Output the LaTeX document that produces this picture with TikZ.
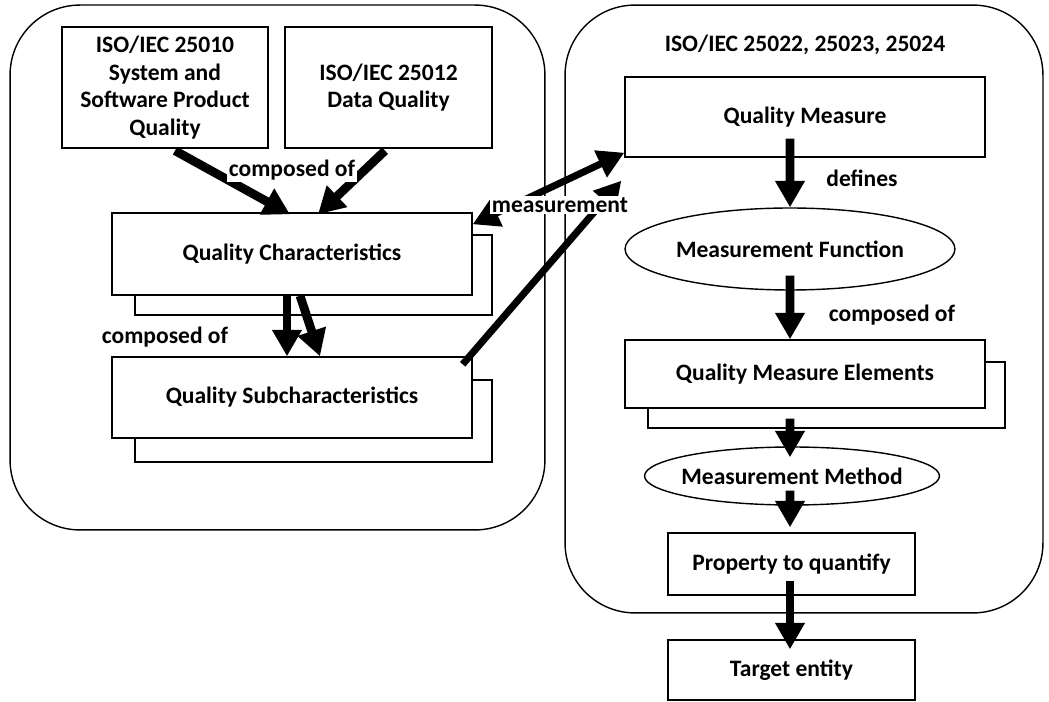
\documentclass[tikz,border=0pt]{standalone}
\usepackage{fontspec}
\setmainfont{Carlito}
\usetikzlibrary{arrows.meta,shapes.geometric}

\begin{document}
\begin{tikzpicture}[x=0.02cm, y=-0.02cm, every node/.style={font=\bfseries\fontsize{13.4}{15.7}\selectfont}, >={Triangle[length=15pt,width=16pt]}, frame/.style={draw, line width=0.8pt, rounded corners=1.4cm, inner sep=0pt}, b/.style={draw, line width=0.8pt, fill=white, inner sep=0pt, align=center}, e/.style={b, ellipse}, lbl/.style={fill=white, inner sep=1pt}, big/.style={line width=5pt, ->}]
	\useasboundingbox (0,0) rectangle (1049,702);
	% the two groups
	\node[frame, minimum width=10.7cm, minimum height=10.5cm] (left) at (277.5,267.5) {};
	\node[frame, minimum width=9.56cm, minimum height=12.16cm] (right) at (804,309) {};
	% left group
	\node[b, minimum width=4.12cm, minimum height=2.42cm] (iso10) at (165,87.5) {ISO/IEC 25010\\System and\\Software Product\\Quality};
	\node[b, minimum width=4.14cm, minimum height=2.42cm] (iso12) at (388.5,87.5) {ISO/IEC 25012\\Data Quality};
	\node[b, minimum width=7.14cm, minimum height=1.6cm] (qcs) at (313.5,275) {};
	\node[b, minimum width=7.2cm, minimum height=1.64cm] (qc) at (292,254) {Quality Characteristics};
	\node[b, minimum width=7.14cm, minimum height=1.64cm] (qss) at (313.5,421) {};
	\node[b, minimum width=7.2cm, minimum height=1.62cm] (qs) at (292,397.5) {Quality Subcharacteristics};
	% right group
	\node (rhead) at (805,45) {ISO/IEC 25022, 25023, 25024};
	\node[b, minimum width=7.2cm, minimum height=1.6cm] (qm) at (805,117) {Quality Measure};
	\node[e, inner xsep=-0.2cm, minimum width=6.6cm, minimum height=1.64cm] (mf) at (790,249) {Measurement Function};
	\node[b, minimum width=7.14cm, minimum height=1.32cm] (qmes) at (826.5,395) {};
	\node[b, minimum width=7.2cm, minimum height=1.36cm] (qme) at (805,374) {Quality Measure Elements};
	\node[e, inner xsep=-0.55cm, minimum width=5.9cm, minimum height=1.16cm] (mm) at (792,476) {Measurement Method};
	\node[b, minimum width=4.94cm, minimum height=1.24cm] (pq) at (791.5,564) {Property to quantify};
	\node[b, minimum width=4.94cm, minimum height=1.2cm] (te) at (791.5,670) {Target entity};
	% arrows
	\draw[big] ([xshift=0.2cm,yshift=-0.04cm]iso10.south) -- ([xshift=-0.04cm,yshift=-0.04cm]qc.north);
	\draw[big] ([xshift=-0.07cm,yshift=-0.04cm]iso12.south) -- ([xshift=0.52cm,yshift=-0.04cm]qc.north);
	\draw[big] ([xshift=-0.1cm]qc.south) -- ([xshift=-0.1cm]qs.north);
	\draw[big] ([xshift=0.16cm]qc.south) -- ([xshift=0.56cm]qs.north);
	\draw[line width=4pt, <->] ([yshift=-0.24cm]qc.north east) -- ([yshift=0.1cm]qm.south west);
	\draw[line width=4pt, ->] ([xshift=-0.2cm,yshift=-0.16cm]qs.north east) -- ([xshift=-0.06cm,yshift=-0.46cm]qm.south west);
	\draw[big] ([xshift=-0.3cm,yshift=0.38cm]qm.south) -- (mf.north);
	\draw[big] ([yshift=0.3cm]mf.south) -- ([xshift=-0.3cm]qme.north);
	\draw[big] ([xshift=-0.3cm,yshift=-0.2cm]qme.south) -- ([xshift=-0.04cm,yshift=-0.22cm]mm.north);
	\draw[big] ([xshift=-0.04cm,yshift=0.3cm]mm.south) -- ([xshift=-0.03cm,yshift=0.1cm]pq.north);
	\draw[big] ([xshift=-0.03cm,yshift=0.3cm]pq.south) -- ([xshift=-0.03cm,yshift=-0.2cm]te.north);
	% labels
	\node[lbl] (comp1) at (292,170) {composed of};
	\node[lbl] (comp2) at (165,337) {composed of};
	\node[lbl] (meas) at (560,205) {measurement};
	\node[lbl] (def) at (862,178) {defines};
	\node[lbl] (comp3) at (892,315) {composed of};
\end{tikzpicture}
\end{document}
